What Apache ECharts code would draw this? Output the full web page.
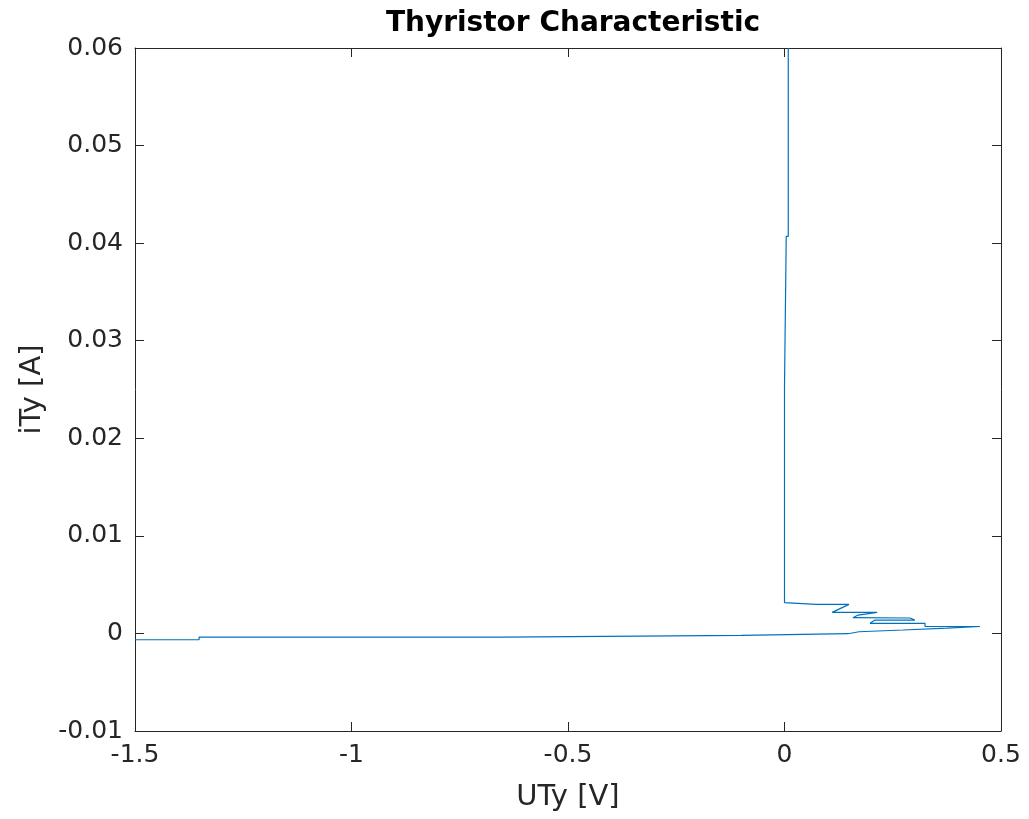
<!DOCTYPE html>
<html>
<head>
<meta charset="utf-8">
<script src="https://cdn.jsdelivr.net/npm/echarts@6/dist/echarts.min.js"></script>
<style>html,body{margin:0;padding:0;background:#fff}#c{width:1029px;height:819px}</style>
</head>
<body>
<div id="c"></div>
<script>
const titleText = "Thyristor Characteristic";
const xName = "UTy [V]";
const yName = "iTy [A]";
// Thyristor voltage (V) along the trace
const uTy = [-1.5, -1.352, -1.352, -0.652, -0.652, -0.1, -0.1, 0.147, 0.147, 0.172, 0.172, 0.274, 0.274, 0.375, 0.375, 0.4515,
  0.3245, 0.3245, 0.1975, 0.209, 0.301, 0.290, 0.158, 0.170, 0.214, 0.110, 0.149, 0.073, 0.073, 0.0, 0.0, 0.004, 0.004, 0.0087, 0.0087];
// Thyristor current (A) along the trace
const iTy = [-0.00065, -0.00065, -0.00037, -0.00037, -0.00019, -0.00019, -0.00003, -0.00003, 0.000174, 0.000174, 0.00035, 0.00035, 0.00055, 0.00055, 0.00071, 0.00071,
  0.00071, 0.00104, 0.00104, 0.00137, 0.00137, 0.00158, 0.00161, 0.00188, 0.00216, 0.00216, 0.00298, 0.00298, 0.00315, 0.00315, 0.0253, 0.0253, 0.0407, 0.0407, 0.06];
const xTicks = {min: -1.5, max: 0.5, interval: 0.5};
const yTicks = {min: -0.01, max: 0.06, interval: 0.01};

const axisCol = '#262626';
const font = 'DejaVu Sans';
const pts = uTy.map((u, i) => [u, iTy[i]]);

const chart = echarts.init(document.getElementById('c'), null, {renderer: 'canvas'});
const baseAxis = {
  axisLine: {show: true, onZero: false, lineStyle: {color: axisCol, width: 1}},
  axisTick: {show: true, inside: true, length: 9, lineStyle: {color: axisCol}},
  splitLine: {show: false},
};
chart.setOption({
  animation: false,
  backgroundColor: '#fff',
  title: {text: titleText, left: 568, top: 5, textAlign: 'center',
    textStyle: {fontFamily: font, fontWeight: 'bold', fontSize: 28, color: '#000'}},
  grid: {left: 135, right: 28, top: 48, bottom: 88, containLabel: false, show: false},
  xAxis: [
    Object.assign({}, baseAxis, {type: 'value', position: 'bottom', min: xTicks.min, max: xTicks.max, interval: xTicks.interval,
      name: xName, nameLocation: 'middle', nameGap: 52,
      nameTextStyle: {fontFamily: font, fontSize: 29, color: axisCol},
      axisLabel: {fontFamily: font, fontSize: 25, color: axisCol, margin: 12}}),
    Object.assign({}, baseAxis, {type: 'value', position: 'top', min: xTicks.min, max: xTicks.max, interval: xTicks.interval,
      axisLabel: {show: false}})
  ],
  yAxis: [
    Object.assign({}, baseAxis, {type: 'value', position: 'left', min: yTicks.min, max: yTicks.max, interval: yTicks.interval,
      name: yName, nameLocation: 'middle', nameGap: 88, nameRotate: 90,
      nameTextStyle: {fontFamily: font, fontSize: 29, color: axisCol},
      axisLabel: {fontFamily: font, fontSize: 25, color: axisCol, margin: 12,
        formatter: v => String(Math.round(v * 100) / 100)}}),
    Object.assign({}, baseAxis, {type: 'value', position: 'right', min: yTicks.min, max: yTicks.max, interval: yTicks.interval,
      axisLabel: {show: false}})
  ],
  series: [{
    type: 'line', data: pts, showSymbol: false, symbol: 'none',
    lineStyle: {color: '#0072BD', width: 1.2}, xAxisIndex: 0, yAxisIndex: 0
  }]
});
</script>
</body>
</html>
